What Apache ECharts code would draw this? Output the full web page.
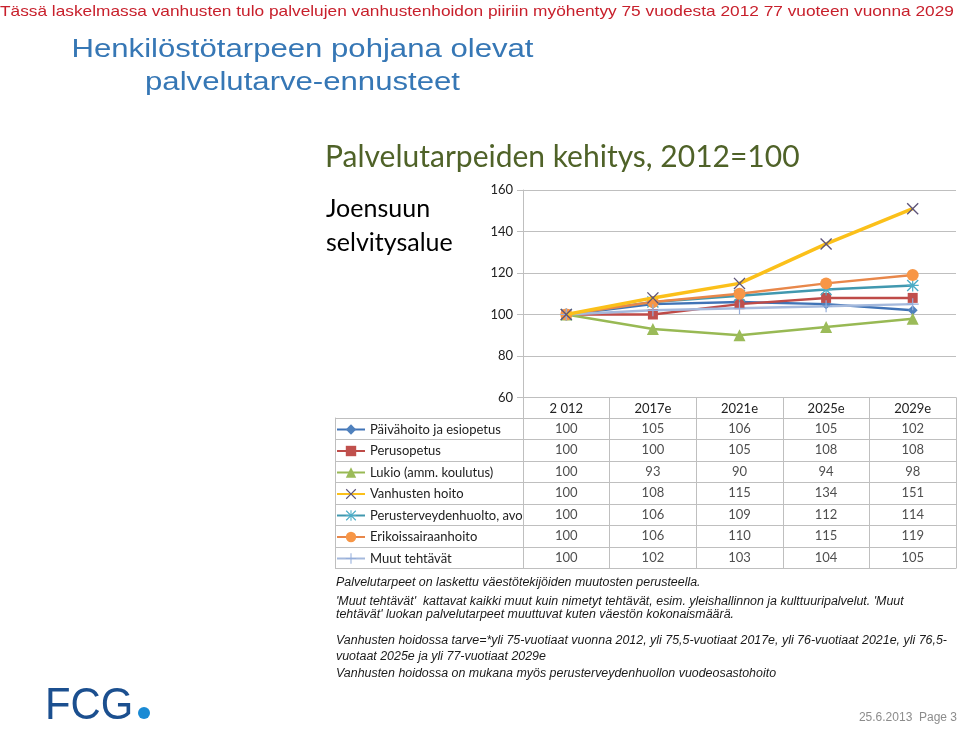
<!DOCTYPE html>
<html>
<head>
<meta charset="utf-8">
<script src="https://cdn.jsdelivr.net/npm/echarts@6/dist/echarts.min.js"></script>
<style>
html,body{margin:0;padding:0;background:#fff;}
#chart{width:960px;height:730px;}
</style>
</head>
<body>
<div id="chart"></div>
<script>
// ---- data ----
const categories = ['2 012', '2017e', '2021e', '2025e', '2029e'];
const seriesNames = [
  'Päivähoito ja esiopetus',
  'Perusopetus',
  'Lukio (amm. koulutus)',
  'Vanhusten hoito',
  'Perusterveydenhuolto, avo',
  'Erikoissairaanhoito',
  'Muut tehtävät'
];
const paivahoito   = [100, 105, 106, 105, 102];
const perusopetus  = [100, 100, 105, 108, 108];
const lukio        = [100, 93, 90, 94, 98];
const vanhusten    = [100, 108, 115, 134, 151];
const perusterveys = [100, 106, 109, 112, 114];
const erikois      = [100, 106, 110, 115, 119];
const muut         = [100, 102, 103, 104, 105];
const yMin = 60, yMax = 160, yStep = 20;

const slideHeader = 'Tässä laskelmassa vanhusten tulo palvelujen vanhustenhoidon piiriin myöhentyy 75 vuodesta 2012 77 vuoteen vuonna 2029';
const slideTitle1 = 'Henkilöstötarpeen pohjana olevat';
const slideTitle2 = 'palvelutarve-ennusteet';
const chartTitle = 'Palvelutarpeiden kehitys, 2012=100';
const areaName = ['Joensuun', 'selvitysalue'];
const notes = [
  'Palvelutarpeet on laskettu väestötekijöiden muutosten perusteella.',
  "'Muut tehtävät'  kattavat kaikki muut kuin nimetyt tehtävät, esim. yleishallinnon ja kulttuuripalvelut. 'Muut",
  "tehtävät' luokan palvelutarpeet muuttuvat kuten väestön kokonaismäärä.",
  'Vanhusten hoidossa tarve=*yli 75-vuotiaat vuonna 2012, yli 75,5-vuotiaat 2017e, yli 76-vuotiaat 2021e, yli 76,5-',
  'vuotaat 2025e ja yli 77-vuotiaat 2029e',
  'Vanhusten hoidossa on mukana myös perusterveydenhuollon vuodeosastohoito'
];
const footerText = '25.6.2013  Page 3';

// ---- styling ----
const values = [paivahoito, perusopetus, lukio, vanhusten, perusterveys, erikois, muut];
const X_PATH = 'path://M0,1.6 L1.6,0 L10,8.4 L18.4,0 L20,1.6 L11.6,10 L20,18.4 L18.4,20 L10,11.6 L1.6,20 L0,18.4 L8.4,10 Z';
const PLUS_PATH = 'path://M9,0 L11,0 L11,9 L20,9 L20,11 L11,11 L11,20 L9,20 L9,11 L0,11 L0,9 L9,9 Z';
const AST_PATH = 'path://M0,1.6 L1.6,0 L10,8.4 L18.4,0 L20,1.6 L11.6,10 L20,18.4 L18.4,20 L10,11.6 L1.6,20 L0,18.4 L8.4,10 Z M9,0 L11,0 L11,9 L20,9 L20,11 L11,11 L11,20 L9,20 L9,11 L0,11 L0,9 L9,9 Z';
const styles = [
  {line: '#4073B6', mark: '#4F81BD', symbol: 'diamond', size: 10, width: 2.5},
  {line: '#BE4B48', mark: '#C0504D', symbol: 'rect', size: 10, width: 2.5},
  {line: '#98B954', mark: '#9BBB59', symbol: 'triangle', size: 12, width: 2.5},
  {line: '#FBC01A', mark: '#5E5478', symbol: X_PATH, size: 12, width: 3.5},
  {line: '#4198AF', mark: '#4BACC6', symbol: AST_PATH, size: 12, width: 2.5},
  {line: '#E8874A', mark: '#F79646', symbol: 'circle', size: 12, width: 2.5},
  {line: '#A5B9DC', mark: '#95AEDB', symbol: PLUS_PATH, size: 12, width: 2.5}
];

const FONT = 'Lato';
const GRID_COLOR = '#BFBFBF';

const lineSeries = seriesNames.map((name, i) => ({
  name: name,
  type: 'line',
  xAxisIndex: 0, yAxisIndex: 0,
  data: values[i],
  symbol: styles[i].symbol,
  symbolSize: styles[i].size,
  showSymbol: true,
  lineStyle: {color: styles[i].line, width: styles[i].width},
  itemStyle: {color: styles[i].mark},
  z: i === 3 ? 4 : 3,
  silent: true
}));

const tableData = [];
seriesNames.forEach((name, i) => {
  categories.forEach((c, j) => tableData.push([c, name, values[i][j]]));
});

const chart = echarts.init(document.getElementById('chart'), null, {renderer: 'canvas'});

const graphics = [
  {type: 'text', x: 0, y: 12, scaleX: 1.152, style: {text: slideHeader, fill: '#C8202C', font: '15px "Liberation Sans"', textVerticalAlign: 'middle', textAlign: 'left'}},
  {type: 'text', x: 302.5, y: 50, scaleX: 1.245, style: {text: slideTitle1, fill: '#3677B5', font: '25px "Liberation Sans"', textVerticalAlign: 'middle', textAlign: 'center'}},
  {type: 'text', x: 302.5, y: 83, scaleX: 1.245, style: {text: slideTitle2, fill: '#3677B5', font: '25px "Liberation Sans"', textVerticalAlign: 'middle', textAlign: 'center'}},
  {type: 'text', x: 325, y: 157, style: {text: chartTitle, fill: '#4F6228', font: '30px Lato', textVerticalAlign: 'middle', textAlign: 'left'}},
  {type: 'text', x: 326, y: 209, style: {text: areaName[0], fill: '#000', font: '25px Lato', textVerticalAlign: 'middle', textAlign: 'left'}},
  {type: 'text', x: 326, y: 243, style: {text: areaName[1], fill: '#000', font: '25px Lato', textVerticalAlign: 'middle', textAlign: 'left'}},
  {type: 'text', x: 45, y: 707, scaleX: 0.95, style: {text: 'FCG', fill: '#1B4F8F', font: '44px "Liberation Sans"', textVerticalAlign: 'middle', textAlign: 'left'}},
  {type: 'circle', shape: {cx: 144, cy: 713, r: 6}, style: {fill: '#1A8AD4'}},
  {type: 'text', x: 957, y: 718, style: {text: footerText, fill: '#8C8C8C', font: '12px "Liberation Sans"', textVerticalAlign: 'middle', textAlign: 'right'}}
];
const noteY = [583, 602, 615, 641, 657, 674];
notes.forEach((t, k) => graphics.push({
  type: 'text', x: 336, y: noteY[k], scaleX: 1.035,
  style: {text: t, fill: '#1A1A1A', font: 'italic 12px "Liberation Sans"', textVerticalAlign: 'middle', textAlign: 'left'}
}));

const option = {
  animation: false,
  backgroundColor: '#fff',
  textStyle: {fontFamily: FONT},
  grid: [
    {left: 523, top: 190, width: 433, height: 207.5, containLabel: false},
    {left: 523, top: 418, width: 433, height: 150.5, containLabel: false},
    {left: 335, top: 418, width: 188, height: 150.5, containLabel: false}
  ],
  xAxis: [
    {
      gridIndex: 0, type: 'category', data: categories, boundaryGap: true,
      axisLine: {lineStyle: {color: GRID_COLOR, width: 1}},
      axisTick: {show: true, length: 20.5, lineStyle: {color: GRID_COLOR}},
      axisLabel: {margin: 5, color: '#222', fontSize: 13, fontFamily: FONT}
    },
    {
      gridIndex: 1, type: 'category', data: categories, boundaryGap: true,
      axisLine: {show: false}, axisTick: {show: false}, axisLabel: {show: false},
      splitLine: {show: true, lineStyle: {color: GRID_COLOR, width: 1}}
    },
    {gridIndex: 2, type: 'value', show: false, min: 0, max: 1}
  ],
  yAxis: [
    {
      gridIndex: 0, type: 'value', min: yMin, max: yMax, interval: yStep,
      axisLine: {show: true, lineStyle: {color: GRID_COLOR}},
      axisTick: {show: true, length: 6, lineStyle: {color: GRID_COLOR}},
      axisLabel: {margin: 10, color: '#222', fontSize: 13, fontFamily: FONT},
      splitLine: {show: true, lineStyle: {color: GRID_COLOR, width: 1}}
    },
    {
      gridIndex: 1, type: 'category', data: seriesNames, inverse: true, boundaryGap: true,
      axisLine: {show: true, lineStyle: {color: GRID_COLOR}}, axisTick: {show: false}, axisLabel: {show: false},
      splitLine: {show: true, lineStyle: {color: GRID_COLOR, width: 1}}
    },
    {
      gridIndex: 2, type: 'category', data: seriesNames, inverse: true, boundaryGap: true,
      axisLine: {show: true, lineStyle: {color: GRID_COLOR}}, axisTick: {show: false}, axisLabel: {show: false},
      splitLine: {show: true, lineStyle: {color: GRID_COLOR, width: 1}}
    }
  ],
  legend: {
    data: seriesNames,
    orient: 'vertical',
    left: 336, top: 423,
    padding: 0,
    itemWidth: 28, itemHeight: 13, itemGap: 8.5,
    selectedMode: false,
    textStyle: {fontSize: 13, color: '#222', fontFamily: FONT}
  },
  series: lineSeries.concat([{
    name: 'table',
    type: 'scatter',
    xAxisIndex: 1, yAxisIndex: 1,
    data: tableData,
    symbol: 'circle', symbolSize: 1,
    itemStyle: {color: 'rgba(0,0,0,0)'},
    silent: true,
    label: {
      show: true, position: 'inside', color: '#222', fontSize: 13, fontFamily: FONT,
      formatter: p => String(p.value[2])
    }
  }]),
  graphic: graphics
};
chart.setOption(option);
</script>
</body>
</html>
